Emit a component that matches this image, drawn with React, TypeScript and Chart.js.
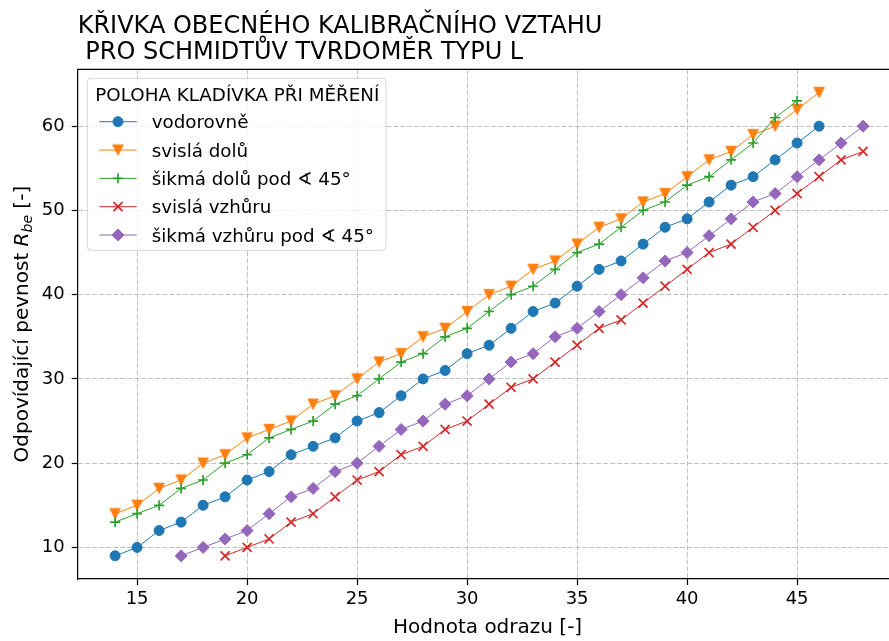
import { useEffect, useRef } from "react";
import { Chart, registerables } from "chart.js";

Chart.register(...registerables);

// ---- data ----
const hodnotaOdrazu = [14, 15, 16, 17, 18, 19, 20, 21, 22, 23, 24, 25, 26, 27, 28, 29, 30, 31, 32, 33, 34, 35, 36, 37, 38, 39, 40, 41, 42, 43, 44, 45, 46, 47, 48];

const vodorovne = [9, 10, 12, 13, 15, 16, 18, 19, 21, 22, 23, 25, 26, 28, 30, 31, 33, 34, 36, 38, 39, 41, 43, 44, 46, 48, 49, 51, 53, 54, 56, 58, 60];
const vodorovneStart = 0; // index into hodnotaOdrazu (14)

const svislaDolu = [14, 15, 17, 18, 20, 21, 23, 24, 25, 27, 28, 30, 32, 33, 35, 36, 38, 40, 41, 43, 44, 46, 48, 49, 51, 52, 54, 56, 57, 59, 60, 62, 64];
const svislaDoluStart = 0; // 14

const sikmaDolu = [13, 14, 15, 17, 18, 20, 21, 23, 24, 25, 27, 28, 30, 32, 33, 35, 36, 38, 40, 41, 43, 45, 46, 48, 50, 51, 53, 54, 56, 58, 61, 63];
const sikmaDoluStart = 0; // 14

const svislaVzhuru = [9, 10, 11, 13, 14, 16, 18, 19, 21, 22, 24, 25, 27, 29, 30, 32, 34, 36, 37, 39, 41, 43, 45, 46, 48, 50, 52, 54, 56, 57];
const svislaVzhuruStart = 5; // 19

const sikmaVzhuru = [9, 10, 11, 12, 14, 16, 17, 19, 20, 22, 24, 25, 27, 28, 30, 32, 33, 35, 36, 38, 40, 42, 44, 45, 47, 49, 51, 52, 54, 56, 58, 60];
const sikmaVzhuruStart = 3; // 17

const seriesNames = [
  "vodorovně",
  "svislá dolů",
  "šikmá dolů pod ∢ 45°",
  "svislá vzhůru",
  "šikmá vzhůru pod ∢ 45°",
];
const seriesColors = ["#1f77b4", "#ff7f0e", "#2ca02c", "#d62728", "#9467bd"];

const xTicks = [15, 20, 25, 30, 35, 40, 45];
const yTicks = [10, 20, 30, 40, 50, 60];

const titleLines = ["KŘIVKA OBECNÉHO KALIBRAČNÍHO VZTAHU", " PRO SCHMIDTŮV TVRDOMĚR TYPU L"];
const xLabel = "Hodnota odrazu [-]";
const yLabelMain = "Odpovídající pevnost ";
const yLabelSym = "R";
const yLabelSub = "be";
const yLabelEnd = " [-]";
const legendTitle = "POLOHA KLADÍVKA PŘI MĚŘENÍ";

const FONT = '"DejaVu Sans", "Noto Sans", sans-serif';

function toPoints(vals: number[], start: number) {
  return vals.map((y, i) => ({ x: hodnotaOdrazu[start + i], y }));
}

function makeTriangleDown(color: string, size: number) {
  const c = document.createElement("canvas");
  const s = Math.ceil(size) + 4;
  c.width = s;
  c.height = s;
  const ctx = c.getContext("2d")!;
  const cx = s / 2;
  const cy = s / 2;
  const h = size / 2;
  ctx.fillStyle = color;
  ctx.strokeStyle = color;
  ctx.lineWidth = 1;
  ctx.lineJoin = "miter";
  ctx.beginPath();
  ctx.moveTo(cx - h, cy - h);
  ctx.lineTo(cx + h, cy - h);
  ctx.lineTo(cx, cy + h);
  ctx.closePath();
  ctx.fill();
  ctx.stroke();
  return c;
}

type MarkerKind = "circle" | "tri" | "cross" | "crossRot" | "rectRot";
const markerKinds: MarkerKind[] = ["circle", "tri", "cross", "crossRot", "rectRot"];

function drawMarker(ctx: CanvasRenderingContext2D, kind: MarkerKind, x: number, y: number, color: string, tri: HTMLCanvasElement) {
  ctx.save();
  ctx.fillStyle = color;
  ctx.strokeStyle = color;
  ctx.beginPath();
  if (kind === "circle") {
    ctx.lineWidth = 1;
    ctx.arc(x, y, 5, 0, Math.PI * 2);
    ctx.fill();
    ctx.stroke();
  } else if (kind === "tri") {
    ctx.drawImage(tri, x - tri.width / 2, y - tri.height / 2);
  } else if (kind === "cross") {
    ctx.lineWidth = 1.7;
    ctx.moveTo(x - 5, y);
    ctx.lineTo(x + 5, y);
    ctx.moveTo(x, y - 5);
    ctx.lineTo(x, y + 5);
    ctx.stroke();
  } else if (kind === "crossRot") {
    ctx.lineWidth = 1.7;
    const d = 6.4 * Math.SQRT1_2;
    ctx.moveTo(x - d, y - d);
    ctx.lineTo(x + d, y + d);
    ctx.moveTo(x - d, y + d);
    ctx.lineTo(x + d, y - d);
    ctx.stroke();
  } else {
    ctx.lineWidth = 1;
    ctx.moveTo(x - 6, y);
    ctx.lineTo(x, y - 6);
    ctx.lineTo(x + 6, y);
    ctx.lineTo(x, y + 6);
    ctx.closePath();
    ctx.fill();
    ctx.stroke();
  }
  ctx.restore();
}

export default function App() {
  const ref = useRef<HTMLCanvasElement | null>(null);

  useEffect(() => {
    if (!ref.current) return;
    const tri = makeTriangleDown(seriesColors[1], 10.4);

    const decor = {
      id: "decor",
      afterDraw(chart: any) {
        const ctx: CanvasRenderingContext2D = chart.ctx;
        const a = chart.chartArea;
        ctx.save();
        // top/right spines
        ctx.strokeStyle = "#000";
        ctx.lineWidth = 1.2;
        ctx.beginPath();
        ctx.moveTo(a.left, a.top);
        ctx.lineTo(a.right, a.top);
        ctx.lineTo(a.right, a.bottom);
        ctx.stroke();

        // title
        ctx.fillStyle = "#000";
        ctx.textAlign = "left";
        ctx.textBaseline = "alphabetic";
        ctx.font = `24px ${FONT}`;
        ctx.fillText(titleLines[0], a.left, 32.5);
        ctx.fillText(titleLines[1], a.left, 59.2);

        // x label
        ctx.font = `20px ${FONT}`;
        ctx.textAlign = "center";
        ctx.fillText(xLabel, (a.left + a.right) / 2 - 1.5, 633);

        // y label
        ctx.save();
        ctx.translate(28.3, (a.top + a.bottom) / 2);
        ctx.rotate(-Math.PI / 2);
        ctx.textAlign = "left";
        const fMain = `20px ${FONT}`;
        const fIt = `italic 20px ${FONT}`;
        const fSub = `italic 14px ${FONT}`;
        ctx.font = fMain;
        const w1 = ctx.measureText(yLabelMain).width;
        const w4 = ctx.measureText(yLabelEnd).width;
        ctx.font = fIt;
        const w2 = ctx.measureText(yLabelSym).width;
        ctx.font = fSub;
        const w3 = ctx.measureText(yLabelSub).width;
        let px = -(w1 + w2 + w3 + w4) / 2;
        ctx.font = fMain;
        ctx.fillText(yLabelMain, px, 0);
        px += w1;
        ctx.font = fIt;
        ctx.fillText(yLabelSym, px, 0);
        px += w2;
        ctx.font = fSub;
        ctx.fillText(yLabelSub, px, 4);
        px += w3;
        ctx.font = fMain;
        ctx.fillText(yLabelEnd, px, 0);
        ctx.restore();

        // legend
        const lx = 87.3, ly = 78.3, lw = 298.7, lh = 172, r = 4;
        ctx.beginPath();
        ctx.moveTo(lx + r, ly);
        ctx.lineTo(lx + lw - r, ly);
        ctx.arcTo(lx + lw, ly, lx + lw, ly + r, r);
        ctx.lineTo(lx + lw, ly + lh - r);
        ctx.arcTo(lx + lw, ly + lh, lx + lw - r, ly + lh, r);
        ctx.lineTo(lx + r, ly + lh);
        ctx.arcTo(lx, ly + lh, lx, ly + lh - r, r);
        ctx.lineTo(lx, ly + r);
        ctx.arcTo(lx, ly, lx + r, ly, r);
        ctx.closePath();
        ctx.fillStyle = "rgba(255,255,255,0.8)";
        ctx.fill();
        ctx.strokeStyle = "rgba(204,204,204,0.8)";
        ctx.lineWidth = 1;
        ctx.stroke();

        ctx.fillStyle = "#000";
        ctx.textAlign = "left";
        ctx.font = `18.3px ${FONT}`;
        ctx.fillText(legendTitle, 95.3, 100.7);
        for (let i = 0; i < seriesNames.length; i++) {
          const cy = 121.7 + i * 28.33;
          const col = seriesColors[i];
          ctx.strokeStyle = col;
          ctx.lineWidth = 1;
          ctx.beginPath();
          ctx.moveTo(99.3, cy);
          ctx.lineTo(136.7, cy);
          ctx.stroke();
          drawMarker(ctx, markerKinds[i], 118, cy, col, tri);
          ctx.fillStyle = "#000";
          ctx.font = `18.3px ${FONT}`;
          ctx.fillText(seriesNames[i], 151.7, cy + 6.6);
        }
        ctx.restore();
      },
    };

    const mk = (label: string, pts: any[], color: string, order: number, extra: any) => ({
      label,
      data: pts,
      showLine: true,
      borderColor: color,
      backgroundColor: color,
      pointBackgroundColor: color,
      pointBorderColor: color,
      borderWidth: 1,
      order,
      ...extra,
    });

    const datasets = [
      mk(seriesNames[0], toPoints(vodorovne, vodorovneStart), seriesColors[0], 4, { pointStyle: "circle", pointRadius: 5, pointBorderWidth: 1 }),
      mk(seriesNames[1], toPoints(svislaDolu, svislaDoluStart), seriesColors[1], 3, { pointStyle: tri, pointRadius: 6, pointBorderWidth: 1 }),
      mk(seriesNames[2], toPoints(sikmaDolu, sikmaDoluStart), seriesColors[2], 2, { pointStyle: "cross", pointRadius: 5, pointBorderWidth: 1.7 }),
      mk(seriesNames[3], toPoints(svislaVzhuru, svislaVzhuruStart), seriesColors[3], 1, { pointStyle: "crossRot", pointRadius: 6.4, pointBorderWidth: 1.7 }),
      mk(seriesNames[4], toPoints(sikmaVzhuru, sikmaVzhuruStart), seriesColors[4], 0, { pointStyle: "rectRot", pointRadius: 6, pointBorderWidth: 1 }),
    ];

    const gridOpts = { color: "#b0b0b0", lineWidth: 0.8, tickColor: "#000", tickLength: 6, tickWidth: 1.2, drawTicks: true };
    const borderOpts = { display: true, color: "#000", width: 1.2, dash: [5, 2] };

    const chart = new Chart(ref.current, {
      type: "scatter",
      data: { datasets: datasets as any },
      plugins: [decor],
      options: {
        animation: false,
        responsive: false,
        devicePixelRatio: 1,
        layout: { padding: { top: 69.3, right: 19.5, bottom: 0, left: 0 } },
        plugins: { legend: { display: false }, title: { display: false }, tooltip: { enabled: false } },
        scales: {
          x: {
            type: "linear",
            min: 12.3,
            max: 49.7,
            afterBuildTicks: (s: any) => {
              s.ticks = xTicks.map((v) => ({ value: v }));
            },
            afterFit: (s: any) => {
              s.height = 62;
            },
            grid: gridOpts,
            border: borderOpts,
            ticks: { color: "#000", font: { family: FONT, size: 18 }, padding: 4, maxRotation: 0, autoSkip: false },
          },
          y: {
            type: "linear",
            min: 6.25,
            max: 66.75,
            afterBuildTicks: (s: any) => {
              s.ticks = yTicks.map((v) => ({ value: v }));
            },
            afterFit: (s: any) => {
              s.width = 77.7;
            },
            grid: gridOpts,
            border: borderOpts,
            ticks: { color: "#000", font: { family: FONT, size: 18 }, padding: 7, autoSkip: false },
          },
        },
      } as any,
    });
    return () => chart.destroy();
  }, []);

  return (
    <div style={{ position: "fixed", left: 0, top: 0, width: 889, height: 641, overflow: "hidden", background: "#fff" }}>
      <canvas ref={ref} width={920} height={641} style={{ display: "block", width: 920, height: 641 }} />
    </div>
  );
}
